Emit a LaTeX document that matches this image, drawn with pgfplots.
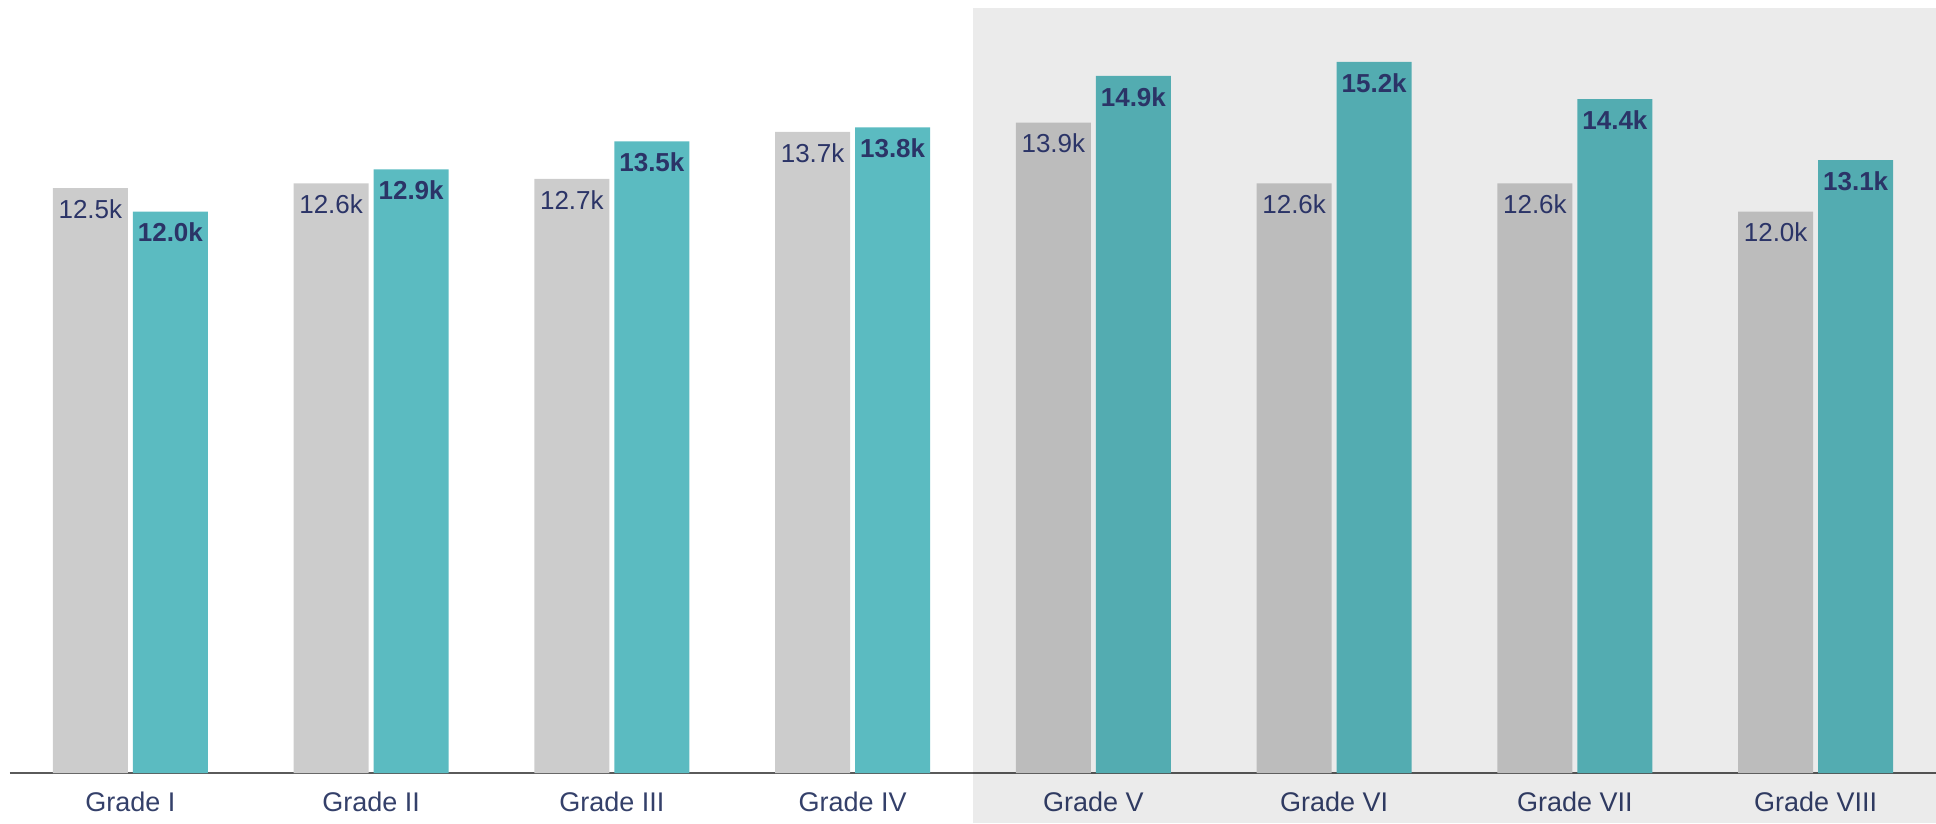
\documentclass[border=0pt]{standalone}
\usepackage{fontspec}
\setmainfont{Liberation Sans}
\usepackage{pgfplots}
\pgfplotsset{compat=1.18}

\definecolor{barGray}{HTML}{CCCCCC}
\definecolor{barTeal}{HTML}{5BBBC1}
\definecolor{labelNavy}{HTML}{2B3467}
\definecolor{tickNavy}{HTML}{34406A}
\definecolor{axisGray}{HTML}{5A5A5A}

\begin{document}
\begin{tikzpicture}
\begin{axis}[
  scale only axis,
  width=963pt, height=382.5pt,
  xmin=-0.5, xmax=7.5, ymin=0, ymax=16.35,
  ybar=2.5pt, bar width=37.5pt,
  axis x line=bottom, axis y line=none,
  x axis line style={-, draw=axisGray, line width=1pt},
  xtick={0,...,7},
  xticklabels={Grade I,Grade II,Grade III,Grade IV,Grade V,Grade VI,Grade VII,Grade VIII},
  major tick length=0pt,
  xticklabel style={font=\fontsize{13.5}{16}\selectfont, text=tickNavy,
    anchor=north, inner sep=0pt, yshift=-9.5pt},
  ytick=\empty,
  clip=false,
  /pgf/number format/assume math mode=true,
  nodes near coords={\pgfmathprintnumber[fixed,fixed zerofill,precision=1,assume math mode=true]{\pgfplotspointmeta}k},
  every node near coord/.append style={anchor=north, inner sep=0pt,
    yshift=-5.5pt, text=labelNavy},
]
% previous period (gray)
\addplot[fill=barGray, draw=none,
  every node near coord/.append style={font=\fontsize{13}{15}\selectfont}]
  coordinates {(0,12.5) (1,12.6) (2,12.7) (3,13.7) (4,13.9) (5,12.6) (6,12.6) (7,12.0)};
% current period (teal)
\addplot[fill=barTeal, draw=none,
  every node near coord/.append style={font=\fontsize{13}{15}\selectfont\bfseries}]
  coordinates {(0,12.0) (1,12.9) (2,13.5) (3,13.8) (4,14.9) (5,15.2) (6,14.4) (7,13.1)};
% highlight band over Grade V - VIII
\fill[black, opacity=0.08] (axis cs:3.5,16.35) rectangle ([yshift=-25pt]axis cs:7.5,0);
\end{axis}
\pgfresetboundingbox
\path[use as bounding box] ([xshift=-5pt,yshift=-25pt]current axis.south west)
  rectangle ([yshift=4pt]current axis.north east);
\end{tikzpicture}
\end{document}
